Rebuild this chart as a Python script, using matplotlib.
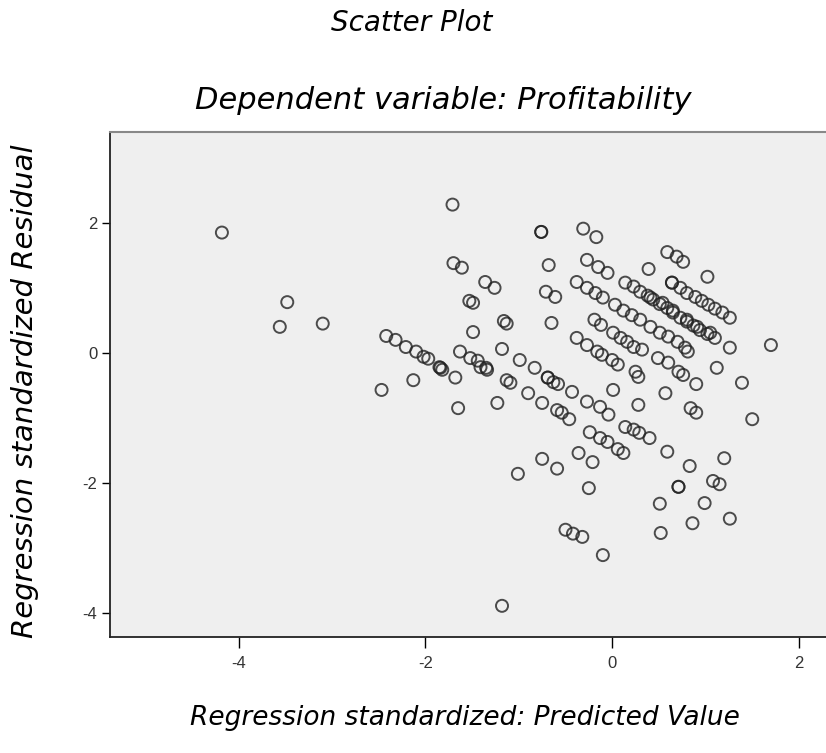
import matplotlib.pyplot as plt

plt.rcParams["axes.unicode_minus"] = False

# standardized predicted value (x) and standardized residual (y)
pred = [
    -4.18, -3.48, -3.56, -3.10, -2.47, -2.13,
    -2.42, -2.32, -2.21, -2.10, -2.02, -1.97, -1.85, -1.84, -1.82,
    -1.71, -1.70, -1.61, -1.36, -1.26, -1.53, -1.49, -1.49,
    -1.63, -1.52, -1.44, -1.35, -1.68,
    -1.16, -1.13, -1.18, -0.99, -0.83,
    -0.76, -0.76, -0.31, -0.17, -0.68, -0.71, -0.61, -0.65,
    -0.27, -0.15, -0.05,
    -0.38, -0.27, -0.18, -0.10, 0.03, 0.12, 0.21, 0.30, 0.41, 0.51, 0.60, 0.70, 0.78, 0.81,
    -0.19, -0.12,
    -0.38, -0.27, -0.16, -0.11, 0.00, 0.06,
    0.01, 0.09, 0.16, 0.23, 0.32,
    0.25, 0.28,
    0.59, 0.69, 0.76, 0.39, 1.02,
    0.14, 0.23, 0.30, 0.38, 0.44, 0.51, 0.59, 0.65, 0.73, 0.80, 0.87, 0.94, 1.02, 1.10,
    0.41, 0.54, 0.65, 0.80, 0.91, 1.05,
    0.64, 0.64, 0.73, 0.80, 0.89, 0.96, 1.03, 1.10, 1.18, 1.26,
    1.26, 1.70,
    0.49, 0.60, 0.71, 0.76,
    0.90, 1.12, 1.39, 1.50,
    0.01, 0.28, 0.57, 0.84, 0.90,
    -0.13, -0.04, -0.27,
    0.14, 0.23, 0.29, 0.40,
    -0.24, -0.13, -0.05,
    0.06, 0.12, 0.59, 0.83, 1.20,
    0.71, 0.71, 1.08, 1.15,
    0.51, 0.99, 0.86, 1.26, 0.52,
    -1.65, -1.23,
    -1.13, -1.09, -1.41, -1.34,
    -0.90, -0.75,
    -0.69, -0.69, -0.63, -0.58, -0.43,
    -0.59, -0.54, -0.46,
    -0.36, -0.21, -0.75, -0.59, -1.01, -0.25,
    -0.50, -0.42, -0.32,
    -0.10, -1.18,
]
resid = [
    1.85, 0.78, 0.40, 0.45, -0.57, -0.42,
    0.26, 0.20, 0.09, 0.02, -0.06, -0.09, -0.22, -0.23, -0.26,
    2.28, 1.38, 1.31, 1.09, 1.00, 0.80, 0.77, 0.32,
    0.02, -0.08, -0.12, -0.23, -0.38,
    0.49, 0.45, 0.06, -0.11, -0.23,
    1.86, 1.86, 1.91, 1.78, 1.35, 0.94, 0.86, 0.46,
    1.43, 1.32, 1.23,
    1.09, 1.00, 0.92, 0.85, 0.74, 0.65, 0.58, 0.51, 0.40, 0.31, 0.25, 0.17, 0.08, 0.02,
    0.51, 0.43,
    0.23, 0.12, 0.02, -0.03, -0.11, -0.18,
    0.31, 0.23, 0.17, 0.09, 0.05,
    -0.29, -0.37,
    1.55, 1.48, 1.40, 1.29, 1.17,
    1.08, 1.02, 0.94, 0.88, 0.82, 0.75, 0.69, 0.62, 0.54, 0.48, 0.42, 0.35, 0.29, 0.23,
    0.85, 0.77, 0.65, 0.51, 0.40, 0.31,
    1.08, 1.08, 1.00, 0.92, 0.86, 0.80, 0.74, 0.68, 0.62, 0.54,
    0.08, 0.12,
    -0.08, -0.15, -0.29, -0.34,
    -0.48, -0.23, -0.46, -1.02,
    -0.57, -0.80, -0.62, -0.85, -0.92,
    -0.83, -0.95, -0.75,
    -1.14, -1.18, -1.23, -1.31,
    -1.22, -1.31, -1.37,
    -1.48, -1.54, -1.52, -1.74, -1.62,
    -2.06, -2.06, -1.97, -2.02,
    -2.32, -2.31, -2.62, -2.55, -2.77,
    -0.85, -0.77,
    -0.42, -0.46, -0.22, -0.26,
    -0.62, -0.77,
    -0.38, -0.38, -0.45, -0.48, -0.60,
    -0.88, -0.92, -1.02,
    -1.54, -1.68, -1.63, -1.78, -1.86, -2.08,
    -2.72, -2.78, -2.83,
    -3.11, -3.89,
]
xticks = [-4, -2, 0, 2]
yticks = [2, 0, -2, -4]

hand = {"family": "DejaVu Sans", "style": "italic"}

fig = plt.figure(figsize=(8.26, 7.53), dpi=100)
ax = fig.add_axes([0.133, 0.154, 0.867, 0.671])
ax.set_facecolor("#efefef")

ax.scatter(pred, resid, s=75, facecolors="none", edgecolors="#222222",
           linewidths=1.4, alpha=0.8)

ax.set_xlim(-5.38, 2.29)
ax.set_ylim(-4.37, 3.40)
ax.set_xticks(xticks)
ax.set_yticks(yticks)
ax.tick_params(axis="x", length=8, width=1, labelsize=12, labelcolor="#333333", pad=6)
ax.tick_params(axis="y", length=6, width=1, labelsize=12, labelcolor="#333333", pad=3)
for lab in ax.get_xticklabels() + ax.get_yticklabels():
    lab.set_fontfamily("Liberation Sans")

for side in ["left", "bottom"]:
    ax.spines[side].set_color("#222222")
    ax.spines[side].set_linewidth(1.3)
ax.spines["top"].set_color("#888888")
ax.spines["top"].set_linewidth(1.5)
ax.spines["right"].set_visible(False)

fig.text(0.498, 0.970, "Scatter Plot", ha="center", va="center", fontsize=20, **hand)
fig.text(0.537, 0.867, "Dependent variable: Profitability", ha="center", va="center",
         fontsize=22, **hand)
fig.text(0.563, 0.047, "Regression standardized: Predicted Value", ha="center",
         va="center", fontsize=19, **hand)
fig.text(0.030, 0.480, "Regression standardized Residual", ha="center", va="center",
         rotation=90, fontsize=21, **hand)

plt.savefig("out.png")
